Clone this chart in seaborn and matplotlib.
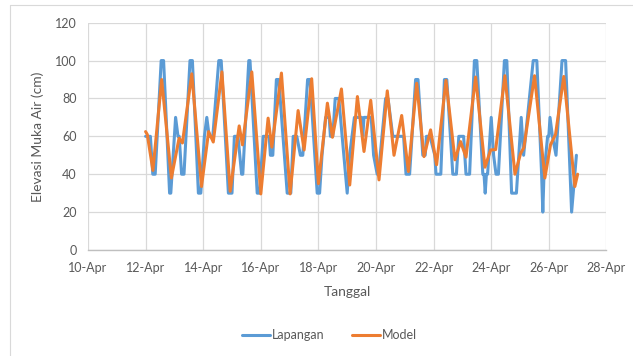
import pandas as pd
import matplotlib
matplotlib.use('Agg')
import matplotlib.pyplot as plt
import matplotlib.dates as mdates
from matplotlib.lines import Line2D
import seaborn as sns

# Lapangan (field obs.), hours after 12-Apr 00:00 and water level in cm
lap_hours = [0, 4, 6, 8, 13, 15, 20, 21, 24, 25, 27, 28, 30, 32, 37, 39, 44, 46, 49, 51,
             53, 56, 61, 63, 69, 72, 74, 77, 80, 81, 86, 87, 93, 95, 98, 103, 104, 106, 109, 111,
             118, 121, 123, 126, 129, 131, 135, 137, 138, 143, 145, 147, 150, 153, 154, 156, 157, 158, 161, 168,
             170, 174, 180, 181, 182, 188, 190, 193, 194, 200, 202, 204, 206, 215, 217, 220, 225, 227, 229, 231,
             233, 234, 237, 241, 242, 246, 249, 251, 256, 259, 261, 265, 267, 270, 274, 276, 281, 282, 283, 284,
             285, 288, 290, 292, 294, 299, 301, 305, 309, 313, 315, 323, 326, 330, 331, 332, 335, 336, 337, 339,
             342, 347, 350, 355, 359]
lap_vals = [60, 60, 40, 40, 100, 100, 30, 30, 60, 70, 60, 60, 40, 40, 100, 100, 30, 30, 60, 70,
            60, 60, 100, 100, 30, 30, 60, 60, 40, 40, 100, 100, 30, 30, 60, 60, 50, 50, 90, 90,
            30, 30, 60, 60, 50, 50, 90, 90, 80, 30, 30, 50, 70, 70, 60, 60, 70, 80, 80, 30,
            50, 70, 70, 60, 70, 70, 50, 40, 40, 80, 80, 70, 60, 60, 40, 40, 90, 90, 70, 50,
            50, 60, 60, 50, 40, 40, 90, 90, 40, 40, 60, 60, 40, 40, 100, 100, 40, 40, 30, 40,
            40, 70, 50, 40, 40, 100, 100, 30, 30, 70, 50, 100, 100, 40, 20, 40, 60, 60, 70, 60,
            50, 100, 100, 20, 50]

# Model output
mod_hours = [0, 1.4, 6.1, 13.4, 21.5, 27.9, 30.7, 38.5, 46.6, 52.5, 56.4, 63.6,
             70.5, 78, 80.7, 88.5, 96, 102.1, 105.2, 113.2, 120.4, 127.1, 132.1, 138.4,
             144, 151.5, 155.7, 163.2, 170.1, 176.5, 182, 187.6, 194.5, 201.4, 207, 213.4,
             219, 225.9, 232, 237.5, 242.5, 250.3, 257.8, 262.5, 267, 275, 282.8, 287.5,
             291.7, 299.4, 307.8, 312.5, 315.2, 324.1, 332.7, 337.4, 341.6, 348.5, 357.7, 360]
mod_vals = [62.5, 61, 42, 90, 38, 59, 56.5, 93, 33.5, 62.5, 57, 94,
            31, 65.5, 55.5, 94, 29.6, 69.6, 54.3, 93.4, 29.6, 73.6, 52.8, 90.4,
            35, 77.5, 59.5, 85, 34.3, 81, 52, 79, 37, 84, 50, 71,
            41.4, 88, 49.3, 63.4, 45, 89.5, 47.6, 57.2, 49, 91.3, 43.7, 52.8,
            53, 92, 40, 51, 54, 92, 38, 55.5, 61, 91.6, 33.5, 40]

START = pd.Timestamp('2019-04-12')
BLUE = '#5B9BD5'
ORANGE = '#ED7D31'
GREY = '#595959'

lap = pd.DataFrame({'t': START + pd.to_timedelta(lap_hours, unit='h'), 'v': lap_vals})
mod = pd.DataFrame({'t': START + pd.to_timedelta(mod_hours, unit='h'), 'v': mod_vals})

sns.set_theme(style='white')
plt.rcParams['font.family'] = ['Lato', 'DejaVu Sans']

fig = plt.figure(figsize=(6.33, 3.56), dpi=100)
ax = fig.add_axes([0.139, 0.2978, 0.819, 0.6385])

sns.lineplot(data=lap, x='t', y='v', color=BLUE, lw=2.2, ax=ax,
             solid_joinstyle='round', solid_capstyle='round')
sns.lineplot(data=mod, x='t', y='v', color=ORANGE, lw=2.2, ax=ax,
             solid_joinstyle='round', solid_capstyle='round')

ax.set_ylim(0, 120)
ax.set_yticks(range(0, 121, 20))
ax.set_xlim(pd.Timestamp('2019-04-10'), pd.Timestamp('2019-04-28'))
ax.xaxis.set_major_locator(mdates.DayLocator(bymonthday=range(10, 29, 2)))
ax.xaxis.set_major_formatter(mdates.DateFormatter('%d-%b'))

ax.grid(True, color='#d9d9d9', lw=0.9)
ax.set_axisbelow(True)
for s in ['top', 'right', 'left']:
    ax.spines[s].set_visible(False)
ax.spines['bottom'].set_color('#bfbfbf')
ax.spines['bottom'].set_linewidth(1.0)
ax.tick_params(axis='both', length=0, labelsize=9, colors=GREY)
ax.tick_params(axis='x', pad=9)
ax.tick_params(axis='y', pad=8)

ax.set_xlabel('Tanggal', fontsize=10, color=GREY)
ax.set_ylabel('Elevasi Muka Air (cm)', fontsize=10, color=GREY)
ax.xaxis.set_label_coords(0.5, -0.16)
ax.yaxis.set_label_coords(-0.085, 0.5)

handles = [Line2D([], [], color=BLUE, lw=2.2), Line2D([], [], color=ORANGE, lw=2.2)]
leg = fig.legend(handles, ['Lapangan', 'Model'], loc='center', bbox_to_anchor=(0.521, 0.059),
                 ncol=2, frameon=False, fontsize=9, handlelength=2.2, handletextpad=0.2,
                 columnspacing=2.2)
for t in leg.get_texts():
    t.set_color(GREY)

# chart area border (top and left edges visible in the source)
fig.add_artist(Line2D([10 / 633, 1], [1 - 5 / 356, 1 - 5 / 356], color='#d9d9d9', lw=0.8))
fig.add_artist(Line2D([10 / 633, 10 / 633], [0, 1 - 5 / 356], color='#d9d9d9', lw=0.8))

fig.savefig('out.png', dpi=100)
plt.close(fig)
